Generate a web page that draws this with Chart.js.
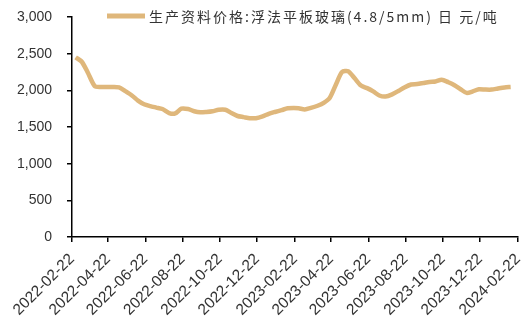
<!DOCTYPE html>
<html>
<head>
<meta charset="utf-8">
<script src="https://cdn.jsdelivr.net/npm/chart.js@4"></script>
<style>
  html, body { margin: 0; padding: 0; background: #fff; }
  #wrap { width: 523px; height: 320px; }
</style>
</head>
<body>
<div id="wrap"><canvas id="glassChart"></canvas></div>
<script>
// 浮法平板玻璃 旬度价格
const seriesLabel = '生产资料价格:浮法平板玻璃(4.8/5mm) 日 元/吨';
const dates = [
  '2022-02-28', '2022-03-10', '2022-03-20', '2022-03-31', '2022-04-10', '2022-04-20', '2022-04-30',
  '2022-05-10', '2022-05-20', '2022-05-31', '2022-06-10', '2022-06-20', '2022-06-30',
  '2022-07-10', '2022-07-20', '2022-07-31', '2022-08-10', '2022-08-20', '2022-08-31',
  '2022-09-10', '2022-09-20', '2022-09-30', '2022-10-10', '2022-10-20', '2022-10-31',
  '2022-11-10', '2022-11-20', '2022-11-30', '2022-12-10', '2022-12-20', '2022-12-31',
  '2023-01-10', '2023-01-20', '2023-01-31', '2023-02-10', '2023-02-20', '2023-02-28',
  '2023-03-10', '2023-03-20', '2023-03-31', '2023-04-10', '2023-04-20', '2023-04-30',
  '2023-05-10', '2023-05-20', '2023-05-31', '2023-06-10', '2023-06-20', '2023-06-30',
  '2023-07-10', '2023-07-20', '2023-07-31', '2023-08-10', '2023-08-20', '2023-08-31',
  '2023-09-10', '2023-09-20', '2023-09-30', '2023-10-10', '2023-10-20', '2023-10-31',
  '2023-11-10', '2023-11-20', '2023-11-30', '2023-12-10', '2023-12-20', '2023-12-31',
  '2024-01-10', '2024-01-20', '2024-01-31', '2024-02-10'
];
const prices = [
  2450, 2390, 2240, 2060, 2045, 2045, 2045,
  2040, 1990, 1930, 1860, 1810, 1785,
  1765, 1745, 1690, 1685, 1750, 1745,
  1715, 1700, 1705, 1715, 1735, 1735,
  1690, 1650, 1635, 1620, 1620, 1645,
  1680, 1705, 1730, 1755, 1760, 1755,
  1740, 1760, 1790, 1830, 1900, 2080,
  2250, 2260, 2160, 2065, 2030, 1985,
  1930, 1915, 1945, 1990, 2040, 2080,
  2085, 2100, 2115, 2120, 2145, 2110,
  2070, 2015, 1965, 1985, 2015, 2010,
  2010, 2025, 2040, 2045
];
const tickDates = [
  '2022-02-22', '2022-04-22', '2022-06-22', '2022-08-22', '2022-10-22', '2022-12-22',
  '2023-02-22', '2023-04-22', '2023-06-22', '2023-08-22', '2023-10-22', '2023-12-22', '2024-02-22'
];

const lineColor = '#DFB77B';
const textColor = '#333333';

// 日期转为距起始日的天数, x 轴用线性刻度
const baseTime = Date.parse(tickDates[0] + 'T00:00:00Z');
const dayOf = s => (Date.parse(s + 'T00:00:00Z') - baseTime) / 86400000;

const points = dates.map((d, i) => ({ x: dayOf(d), y: prices[i] }));

// 图例画在绘图区内部顶端
const insideLegend = {
  id: 'insideLegend',
  afterDraw(chart) {
    const { ctx, chartArea } = chart;
    const ds = chart.data.datasets[0];
    const y = chartArea.top - 1;
    const x0 = chartArea.left + 35;
    ctx.save();
    ctx.strokeStyle = ds.borderColor;
    ctx.lineWidth = 5;
    ctx.lineCap = 'butt';
    ctx.beginPath();
    ctx.moveTo(x0, y);
    ctx.lineTo(x0 + 38, y);
    ctx.stroke();
    ctx.fillStyle = textColor;
    ctx.font = '14px "Noto Sans CJK SC"';
    ctx.letterSpacing = '2px';
    ctx.textBaseline = 'middle';
    ctx.fillText(ds.label, x0 + 42, y + 1);
    ctx.restore();
  }
};

new Chart(document.getElementById('glassChart'), {
  type: 'line',
  data: {
    datasets: [{
      label: seriesLabel,
      data: points,
      borderColor: lineColor,
      backgroundColor: lineColor,
      borderWidth: 4.5,
      pointRadius: 0,
      tension: 0.25,
      fill: false
    }]
  },
  options: {
    responsive: true,
    maintainAspectRatio: false,
    animation: false,
    layout: { padding: { top: 17, right: 5, left: 0, bottom: 0 } },
    plugins: {
      legend: { display: false },
      tooltip: { enabled: false }
    },
    scales: {
      x: {
        type: 'linear',
        min: 0,
        max: dayOf(tickDates[tickDates.length - 1]),
        afterBuildTicks: scale => {
          scale.ticks = tickDates.map(d => ({ value: dayOf(d) }));
        },
        afterFit: scale => {
          scale.height = 83;
          scale.paddingLeft = 0;
          scale.paddingRight = 0;
        },
        ticks: {
          autoSkip: false,
          minRotation: 45,
          maxRotation: 45,
          padding: 8,
          color: textColor,
          font: { family: 'Liberation Sans', size: 15.5 },
          callback: (value, index) => tickDates[index]
        },
        grid: { drawOnChartArea: false, tickLength: 5, color: '#000', lineWidth: 1.5 },
        border: { color: '#000', width: 1.5 }
      },
      y: {
        min: 0,
        max: 3000,
        afterFit: scale => {
          scale.width = 72;
          scale.paddingTop = 0;
          scale.paddingBottom = 0;
        },
        ticks: {
          stepSize: 500,
          padding: 15,
          color: textColor,
          font: { family: 'Liberation Sans', size: 14 },
          callback: v => v.toLocaleString('en-US')
        },
        grid: { drawOnChartArea: false, tickLength: 5, color: '#000', lineWidth: 1.5 },
        border: { color: '#000', width: 1.5 }
      }
    }
  },
  plugins: [insideLegend]
});
</script>
</body>
</html>
